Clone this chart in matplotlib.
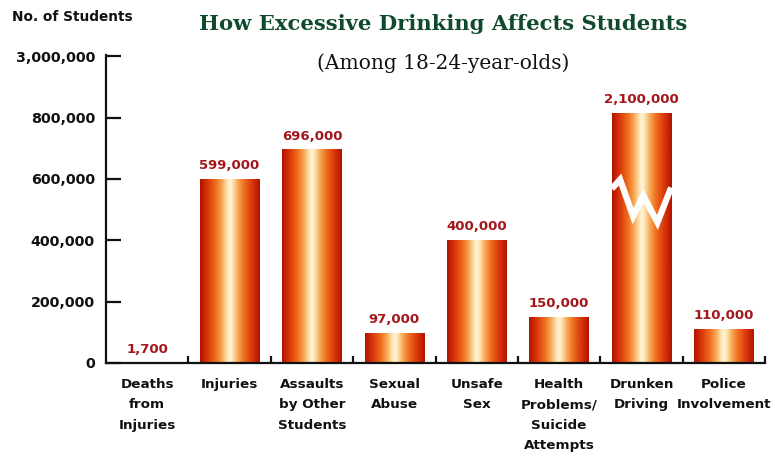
import numpy as np
import matplotlib
matplotlib.use("Agg")
import matplotlib.pyplot as plt
from matplotlib.colors import LinearSegmentedColormap

# ---- data ----
categories = ["Deaths\nfrom\nInjuries", "Injuries", "Assaults\nby Other\nStudents",
              "Sexual\nAbuse", "Unsafe\nSex", "Health\nProblems/\nSuicide\nAttempts",
              "Drunken\nDriving", "Police\nInvolvement"]
values = [1700, 599000, 696000, 97000, 400000, 150000, 2100000, 110000]
value_labels = ["1,700", "599,000", "696,000", "97,000", "400,000", "150,000", "2,100,000", "110,000"]
ytick_values = [0, 200000, 400000, 600000, 800000, 1000000]
ytick_labels = ["0", "200,000", "400,000", "600,000", "800,000", "3,000,000"]

# style constants
BREAK_DISPLAY = 815000      # displayed height of the truncated bar
AXIS_TOP = 1003000
BAR_W = 0.72

fig = plt.figure(figsize=(7.75, 4.59), dpi=100)
ax = fig.add_axes([0.1368, 0.2092, 0.8503, 0.8795 - 0.2092])

x = np.arange(len(categories))
disp = [min(v, BREAK_DISPLAY) for v in values]

bars = ax.bar(x, disp, width=BAR_W, color="none", edgecolor="none", zorder=2)

cmap = LinearSegmentedColormap.from_list("cyl", [
    (0.0, "#b01200"), (0.12, "#d8340a"), (0.26, "#ee6c1c"), (0.37, "#f8aa58"),
    (0.45, "#fde2b0"), (0.5, "#fff6dc"), (0.55, "#fde2b0"), (0.63, "#f8aa58"),
    (0.74, "#ee6c1c"), (0.88, "#d8340a"), (1.0, "#b01200")])
grad = np.linspace(0, 1, 256).reshape(1, -1)

for b in bars:
    x0 = b.get_x(); w = b.get_width(); h = b.get_height()
    im = ax.imshow(grad, cmap=cmap, aspect="auto", extent=(x0, x0 + w, 0, h),
                   zorder=2, interpolation="bicubic")
    im.set_clip_path(b)

ax.set_xlim(-0.5, len(categories) - 0.5)
ax.set_ylim(0, AXIS_TOP)

# zigzag break on truncated bars
for i, v in enumerate(values):
    if v > BREAK_DISPLAY:
        fx = np.array([-0.5, -0.36, -0.14, 0.03, 0.27, 0.5]) * BAR_W
        fy = np.array([568000, 598000, 478000, 546000, 458000, 572000])
        ax.plot(i + fx, fy, color="white", lw=4.5, zorder=3, solid_joinstyle="miter",
                solid_capstyle="butt")

# value labels
for i, (d, lab) in enumerate(zip(disp, value_labels)):
    ax.annotate(lab, (i, d), xytext=(0, 5), textcoords="offset points",
                ha="center", va="bottom", fontsize=9.5, fontweight="bold",
                color="#a3161a", zorder=4)

# axes styling
for s in ["top", "right"]:
    ax.spines[s].set_visible(False)
for s in ["left", "bottom"]:
    ax.spines[s].set_linewidth(1.6)
    ax.spines[s].set_color("#111111")

ax.set_yticks(ytick_values)
ax.set_yticklabels(ytick_labels)
ax.tick_params(axis="y", direction="in", length=11, width=1.6, pad=8,
               labelsize=10.3, colors="#111111")
for t in ax.get_yticklabels():
    t.set_fontweight("bold")

ax.set_xticks(x)
ax.set_xticklabels(categories, fontsize=9.7, fontweight="bold", linespacing=1.72,
                   va="top", color="#111111")
ax.tick_params(axis="x", which="major", length=0, pad=11)
ax.set_xticks(np.arange(0.5, len(categories), 1.0), minor=True)
ax.tick_params(axis="x", which="minor", direction="in", length=5, width=1.6, color="#111111")

fig.text(0.015, 0.962, "No. of Students", fontsize=9.8, fontweight="bold",
         ha="left", va="center", color="#111111")
fig.text(0.572, 0.948, "How Excessive Drinking Affects Students", fontsize=15.2,
         fontweight="bold", family="DejaVu Serif", color="#0f4a2c",
         ha="center", va="center")
fig.text(0.572, 0.862, "(Among 18-24-year-olds)", fontsize=14.5,
         family="DejaVu Serif", color="#111111", ha="center", va="center")

fig.savefig("out.png", dpi=100, facecolor="white")
